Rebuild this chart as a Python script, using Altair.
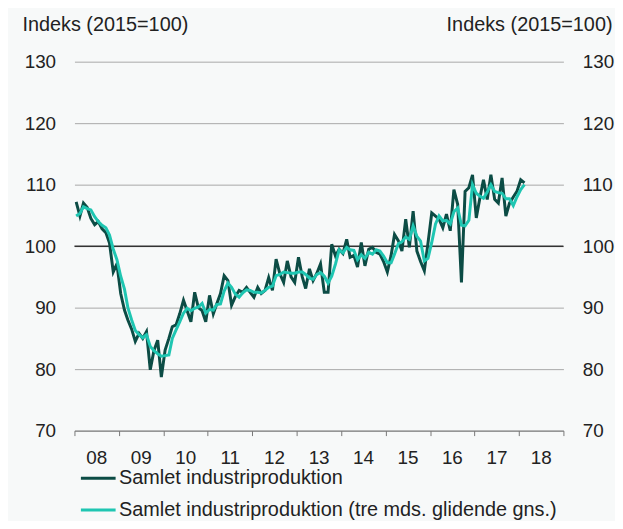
import altair as alt
import pandas as pd

# Monthly values, Jan 2008 - Feb 2018 (index 2015=100)
raw = [
    107.2, 104.9, 107.0, 106.3, 104.5, 103.5, 104.0, 102.8, 102.2, 100.5, 95.8, 97.1,
    92.3, 89.6, 88.0, 86.5, 84.5, 85.8, 85.0, 86.1, 79.9, 83.0, 84.7, 78.7,
    83.1, 85.0, 86.9, 87.2, 89.0, 91.2, 89.5, 87.7, 92.5, 90.0, 89.5, 87.7,
    92.0, 89.0, 90.6, 92.3, 95.2, 94.4, 90.4, 91.8, 92.8, 92.5, 93.3, 92.5,
    91.7, 93.3, 92.3, 92.8, 94.9, 92.8, 97.9, 95.5, 94.1, 97.6, 95.0, 94.1,
    98.2, 95.0, 93.1, 96.3, 94.4, 95.6, 97.1, 92.5, 92.5, 100.3, 98.4, 99.5,
    98.8, 101.1, 98.2, 98.5, 96.6, 100.6, 96.8, 99.5, 99.8, 99.0, 98.7, 97.5,
    95.8, 98.5, 101.9, 100.9, 99.2, 104.4, 99.8, 105.7, 99.2, 97.5, 96.0, 100.5,
    105.4, 104.9, 104.4, 103.0, 105.2, 102.5, 109.2, 106.8, 94.1, 108.9, 109.5, 111.6,
    104.6, 108.0, 110.8, 107.6, 111.6, 107.6, 107.0, 111.1, 104.9, 107.0, 108.0, 108.9,
    110.8, 110.3,
]
smooth = [
    104.9, 105.3, 106.4, 106.1, 105.9, 104.8, 104.0, 103.4, 103.0, 101.8, 99.5, 97.8,
    95.1, 93.0, 90.0, 88.0, 86.3, 85.6, 85.1, 85.6, 83.7, 83.0, 82.5, 82.1,
    82.2, 82.3, 85.0, 86.4, 87.7, 89.1, 89.9, 89.5, 89.9, 90.1, 90.7, 89.1,
    89.7, 89.6, 90.5, 90.6, 92.7, 94.0, 93.3, 92.2, 91.7, 92.4, 92.9, 92.8,
    92.5, 92.5, 92.4, 92.8, 93.3, 93.5, 95.2, 95.4, 95.8, 95.7, 95.6, 95.6,
    95.8, 95.8, 95.4, 94.8, 94.6, 95.4, 95.7, 95.1, 94.0, 95.1, 97.1, 99.4,
    98.9, 99.8, 99.4, 99.3, 97.8, 98.6, 98.0, 99.0, 98.7, 99.4, 99.2, 98.4,
    97.3, 97.3, 98.7, 100.4, 100.7, 101.5, 101.1, 103.3, 101.6, 100.8, 97.6, 98.0,
    100.6, 103.6, 104.9, 104.1, 104.2, 103.6, 105.6, 106.2, 103.4, 103.3, 104.2, 110.0,
    108.6, 108.1, 107.8, 108.8, 110.0, 108.9, 108.7, 108.6, 107.7, 107.7, 106.6, 108.0,
    109.2, 110.0,
]
months = [f"{2008 + i // 12}-{i % 12 + 1:02d}-15" for i in range(len(raw))]

S1 = "Samlet industriproduktion"
S2 = "Samlet industriproduktion (tre mds. glidende gns.)"
y_ticks = [70, 80, 90, 100, 110, 120, 130]
years = list(range(2008, 2020))

df = pd.DataFrame(
    {"date": months * 2, "value": raw + smooth, "series": [S1] * len(raw) + [S2] * len(smooth)}
)

FONT = "Liberation Sans"
x_scale = alt.Scale(
    type="utc",
    domain=[alt.DateTime(year=2008, month=1, date=1, utc=True),
            alt.DateTime(year=2019, month=1, date=1, utc=True)],
)
x_axis = alt.Axis(
    values=[alt.DateTime(year=y, month=1, date=1, utc=True) for y in years],
    labelExpr="utcyear(datum.value) == 2019 ? '' : utcFormat(datum.value, '%y')",
    labelOffset=22, labelFlush=False, labelOverlap=False,
    tickSize=5, labelPadding=13, grid=False,
    domainColor="#777777", tickColor="#777777",
    labelFontSize=19, labelColor="#222222", title=None,
)

lines = alt.Chart(df).mark_line(strokeWidth=3, clip=True).encode(
    x=alt.X("date:T", scale=x_scale, axis=x_axis),
    y=alt.Y(
        "value:Q",
        scale=alt.Scale(domain=[70, 130], nice=False, zero=False),
        axis=alt.Axis(
            values=y_ticks, orient="left", domain=False, ticks=False,
            labelPadding=19, labelFontSize=19, labelColor="#222222",
            grid=True, gridColor="#a8a8a8", gridWidth=1,
            title="Indeks (2015=100)", titleAngle=0, titleX=-53, titleY=-31,
            titleAlign="left", titleBaseline="alphabetic", titleFontSize=20,
            titleFontWeight="normal", titleColor="#222222",
        ),
    ),
    color=alt.Color(
        "series:N",
        scale=alt.Scale(domain=[S1, S2], range=["#0c4c45", "#1fc6b2"]),
        legend=alt.Legend(
            orient="none", legendX=5, legendY=401, title=None,
            symbolType="stroke", symbolSize=1225, symbolStrokeWidth=3,
            labelFontSize=20, labelColor="#222222", labelLimit=700,
            labelOffset=2, rowPadding=3, padding=0, direction="vertical",
        ),
    ),
)

ref = alt.Chart(pd.DataFrame({"v": [100]})).mark_rule(color="#333333", strokeWidth=1.5).encode(
    y=alt.Y(
        "v:Q",
        scale=alt.Scale(domain=[70, 130], nice=False, zero=False),
        axis=alt.Axis(
            values=y_ticks, orient="right", domain=False, ticks=False,
            labelPadding=19, labelFontSize=19, labelColor="#222222", grid=False,
            title="Indeks (2015=100)", titleAngle=0, titleX=49, titleY=-31,
            titleAlign="right", titleBaseline="alphabetic", titleFontSize=20,
            titleFontWeight="normal", titleColor="#222222",
        ),
    )
)

chart = (
    alt.layer(ref, lines)
    .resolve_scale(y="independent")
    .properties(
        width=493, height=372,
        autosize=alt.AutoSizeParams(type="none"),
        padding={"left": 67, "top": 52, "right": 52, "bottom": 89},
        background="#f7f9f9",
    )
    .configure(font=FONT)
    .configure_view(stroke=None)
)

chart.save("out.html", embed_options={"renderer": "svg", "actions": False})
